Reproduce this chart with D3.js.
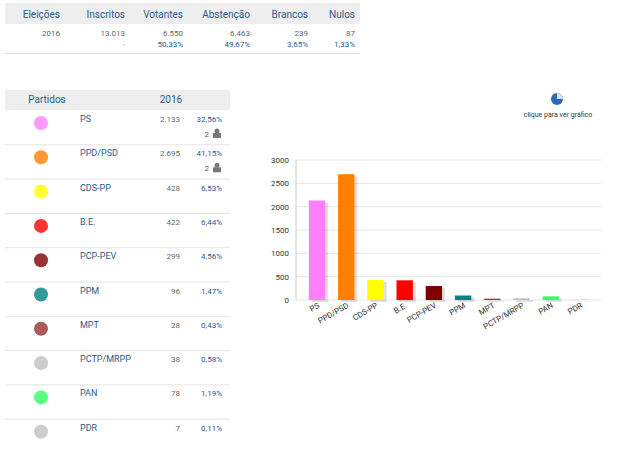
<!DOCTYPE html><html><head><meta charset="utf-8"><script src="https://cdn.jsdelivr.net/npm/d3@7"></script>
<style>body{margin:0;background:#fff;font-family:Roboto,Arial,sans-serif}</style></head><body><svg id="s" width="640" height="453"></svg>
<script>
const headers=["Eleições","Inscritos","Votantes","Abstenção","Brancos","Nulos"];
const row1=["2016","13.013","6.550","6.463","239","87"];
const row2=["","-","50,33%","49,67%","3,65%","1,33%"];
const parties=["PS","PPD/PSD","CDS-PP","B.E.","PCP-PEV","PPM","MPT","PCTP/MRPP","PAN","PDR"];
const votes=[2133,2695,428,422,299,96,28,38,78,7];
const pct=["32,56%","41,15%","6,53%","6,44%","4,56%","1,47%","0,43%","0,58%","1,19%","0,11%"];
const seats=[2,2,0,0,0,0,0,0,0,0];
const colors=["#ff80ff","#ff8000","#ffff00","#ff0000","#800000","#008080","#993333","#c0c0c0","#33ff66","#c0c0c0"];
const yTicks=[0,500,1000,1500,2000,2500,3000];
const svg=d3.select("#s");
// top table
svg.append("rect").attr("x",5).attr("y",3).attr("width",355).attr("height",21).attr("fill","#eeeeee");
const colR=[60,125,183,250,308,355];
headers.forEach((h,i)=>svg.append("text").attr("x",colR[i]).attr("y",18).attr("text-anchor","end").attr("font-size",10).attr("fill","#2a5a8a").text(h));
row1.forEach((h,i)=>svg.append("text").attr("x",colR[i]).attr("y",36).attr("text-anchor","end").attr("font-size",8).attr("fill","#666").text(h));
row2.forEach((h,i)=>svg.append("text").attr("x",colR[i]).attr("y",47).attr("text-anchor","end").attr("font-size",8).attr("fill",i==1?"#999":"#2a5a8a").text(h));
svg.append("line").attr("x1",5).attr("x2",360).attr("y1",53.5).attr("y2",53.5).attr("stroke","#ddd");
// party table
svg.append("rect").attr("x",5).attr("y",90).attr("width",225).attr("height",20).attr("fill","#eeeeee");
svg.append("text").attr("x",47).attr("y",103).attr("text-anchor","middle").attr("font-size",10).attr("fill","#2a5a8a").text("Partidos");
svg.append("text").attr("x",171).attr("y",103).attr("text-anchor","middle").attr("font-size",10).attr("fill","#2a5a8a").text("2016");
const rowY=d3.scaleBand().domain(parties).range([110,453]);
parties.forEach((p,i)=>{
  const y=rowY(p);
  if(i>0)svg.append("line").attr("x1",5).attr("x2",230).attr("y1",y+.5).attr("y2",y+.5).attr("stroke","#e4e4e4");
  svg.append("circle").attr("cx",41).attr("cy",y+13).attr("r",7).attr("fill",colors[i]).attr("opacity",.8);
  svg.append("text").attr("x",80).attr("y",y+12).attr("font-size",9).attr("fill","#2a5a8a").text(p);
  svg.append("text").attr("x",180).attr("y",y+12).attr("text-anchor","end").attr("font-size",8).attr("fill","#666").text(d3.format(",")(votes[i]).replace(",","."));
  svg.append("text").attr("x",222).attr("y",y+12).attr("text-anchor","end").attr("font-size",8).attr("fill","#2a5a8a").text(pct[i]);
  if(seats[i]){svg.append("text").attr("x",209).attr("y",y+27).attr("text-anchor","end").attr("font-size",8).attr("fill","#555").text(seats[i]);
    svg.append("circle").attr("cx",217).attr("cy",y+21).attr("r",2.5).attr("fill","#777");
    svg.append("rect").attr("x",213).attr("y",y+23).attr("width",8).attr("height",5).attr("fill","#777");}
});
// chart button
svg.append("circle").attr("cx",557).attr("cy",99).attr("r",6).attr("fill","#2a6db0");
svg.append("path").attr("d","M557,99 L557,93 A6,6 0 0 1 563,99 Z").attr("fill","#cfe3f5");
svg.append("text").attr("x",558).attr("y",117).attr("text-anchor","middle").attr("font-size",7).attr("fill","#333").text("clique para ver gráfico");
// chart
const x=d3.scaleBand().domain(parties).range([296,601]).padding(0.44);
const y=d3.scaleLinear().domain([0,3000]).range([300,160]);
const g=svg.append("g");
yTicks.forEach(t=>g.append("line").attr("x1",296).attr("x2",601).attr("y1",y(t)).attr("y2",y(t)).attr("stroke","#e6e6e6"));
g.append("line").attr("x1",296).attr("x2",296).attr("y1",160).attr("y2",300).attr("stroke","#ccc");
yTicks.forEach(t=>g.append("text").attr("x",289).attr("y",y(t)+3).attr("text-anchor","end").attr("font-size",8).attr("fill","#333").text(t));
parties.forEach((p,i)=>{
  g.append("rect").attr("x",x(p)+3).attr("y",y(votes[i])+2).attr("width",x.bandwidth()).attr("height",300-y(votes[i])).attr("fill","#000").attr("opacity",.12);
  g.append("rect").attr("x",x(p)).attr("y",y(votes[i])).attr("width",x.bandwidth()).attr("height",300-y(votes[i])).attr("fill",colors[i]);
  const cx=x(p)+x.bandwidth()/2+3;
  g.append("text").attr("transform",`translate(${cx},307) rotate(-30)`).attr("text-anchor","end").attr("font-size",8).attr("fill","#333").text(p);
});
</script></body></html>
